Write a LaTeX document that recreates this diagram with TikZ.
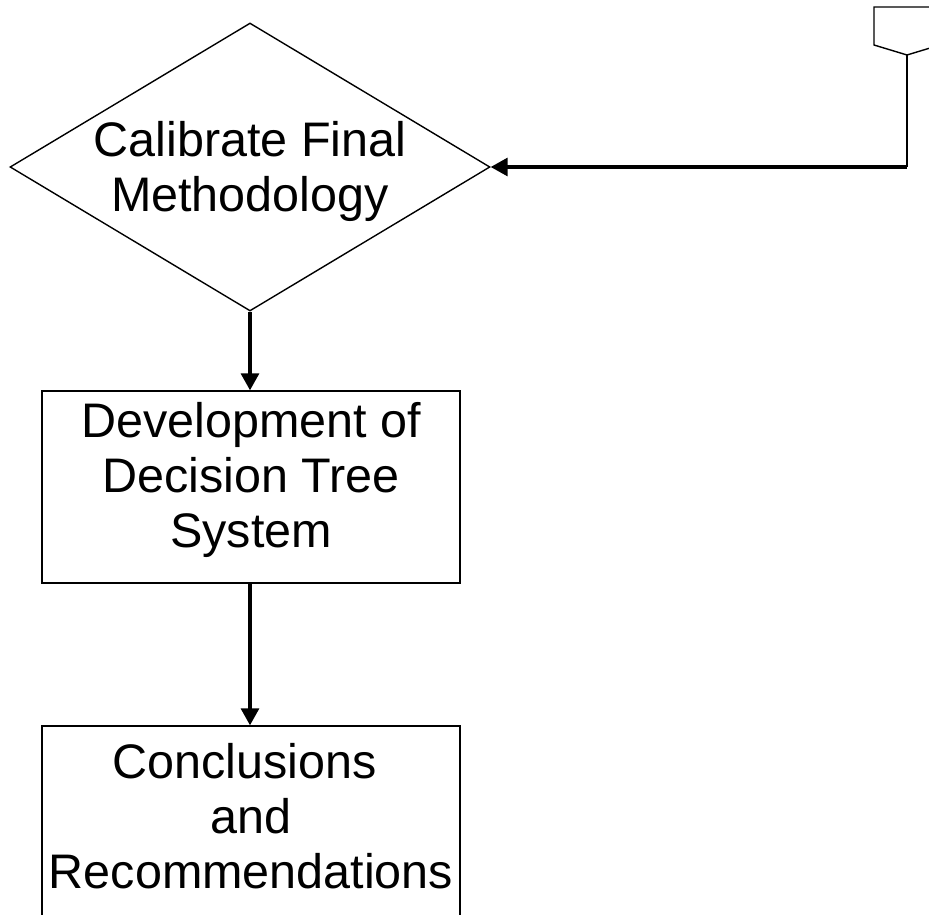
\documentclass[tikz,border=0pt]{standalone}
\usepackage{fontspec}
\setmainfont{Liberation Sans}
\usetikzlibrary{shapes.geometric,arrows.meta}
\begin{document}
\begin{tikzpicture}[x=1pt,y=-1pt,
  shapeline/.style={draw=black, line width=1.4pt},
  thinline/.style={draw=black, line width=1.5pt},
  flow/.style={draw=black, line width=3.2pt, -{Triangle[length=17pt,width=18pt]}},
  lbl/.style={font=\fontsize{48.5}{55}\selectfont, inner sep=0pt},
  boxnode/.style={shapeline, lbl, rectangle, minimum width=418pt, minimum height=192pt}]
\useasboundingbox (0,0) rectangle (929,915);
% decision diamond
\node[shapeline, lbl, diamond, aspect=1.6667, minimum width=480pt, minimum height=288pt] (cal) at (250,167)
  {\makebox[260pt]{\raisebox{-6.5pt}[\height][\depth]{\begin{tabular}{@{}c@{}}Calibrate Final\\Methodology\end{tabular}}}};
% process boxes
\node[boxnode] (dev) at (251,487)
  {\raisebox{6pt}[\height][\depth]{\begin{tabular}{@{}c@{}}Development of\\Decision Tree\\System\end{tabular}}};
\node[boxnode, minimum height=193pt] (conc) at (251,822.5)
  {\begin{tabular}{@{}c@{}}Conclusions\kern13pt\\and\\Recommendations\end{tabular}};
% off-page reference
\draw[shapeline] (874,7) -- (874,45) -- (907,55) -- (940,45) -- (940,7) -- cycle;
\coordinate (opc) at (907,55);
\coordinate (turn) at (907,167);
% connectors
\draw[thinline] (opc) -- (turn);
\draw[flow] (turn) -- (cal.east);
\draw[flow] (cal.south) -- (cal.south |- dev.north);
\draw[flow] (dev.south -| cal.south) -- (cal.south |- conc.north);
\end{tikzpicture}
\end{document}
